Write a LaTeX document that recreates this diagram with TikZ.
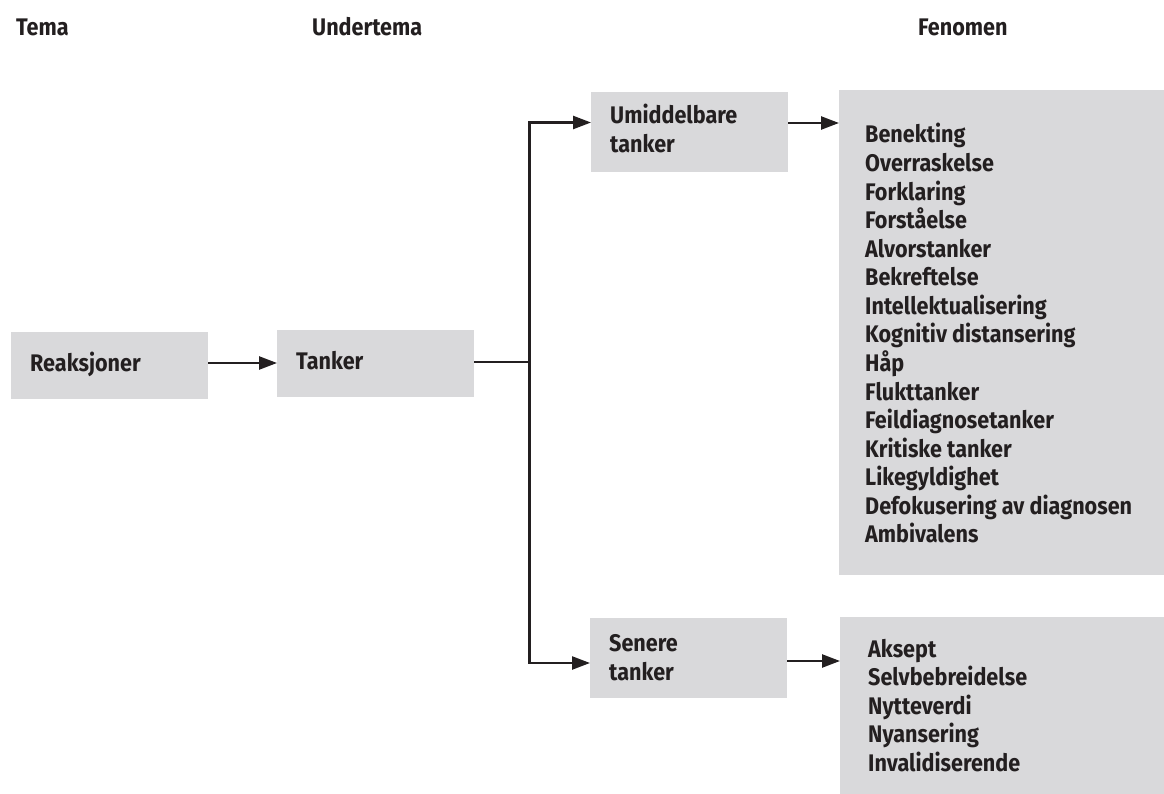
\documentclass[tikz,border=0pt]{standalone}
\usepackage{fontspec}
\usetikzlibrary{arrows.meta}
\newfontfamily\lblfont[FakeStretch=0.90]{Fira Sans}
\definecolor{ink}{HTML}{231F20}
\definecolor{boxgray}{HTML}{D9D9DB}
\tikzset{
  box/.style={fill=boxgray, draw=none, inner sep=0pt, anchor=north west},
  lbl/.style={font=\lblfont\bfseries\fontsize{24}{28}\selectfont, text=ink, inner sep=0pt, anchor=base west},
  ln/.style={draw=ink, line width=2.4pt, line join=miter},
  arr/.style={ln, -{Triangle[length=18pt,width=13pt]}},
}
\begin{document}
\begin{tikzpicture}[x=1pt,y=-1pt]
\useasboundingbox[fill=white] (0,0) rectangle (1164,794);

% column headings
\node[lbl] (hTema) at (16,36) {Tema};
\node[lbl] (hUnder) at (312,36) {Undertema};
\node[lbl] (hFen) at (918,36) {Fenomen};

% theme and subtheme boxes
\node[box, minimum width=197, minimum height=67] (reak) at (11,332) {};
\node[lbl] (reakT) at (30,371) {Reaksjoner};
\node[box, minimum width=197, minimum height=67] (tank) at (277,330) {};
\node[lbl] (tankT) at (296,369) {Tanker};

\node[box, minimum width=197, minimum height=80] (umid) at (591,92) {};
\node[lbl] (umidT1) at (610,124) {Umiddelbare};
\node[lbl] (umidT2) at (610,153) {tanker};

\node[box, minimum width=197, minimum height=80] (sen) at (590,618) {};
\node[lbl] (senT1) at (609,651) {Senere};
\node[lbl] (senT2) at (609,680) {tanker};

% phenomenon boxes
\node[box, minimum width=325, minimum height=485] (fen1) at (839,90) {};
\foreach \t [count=\i from 0] in {Benekting,Overraskelse,Forklaring,Forståelse,Alvorstanker,Bekreftelse,Intellektualisering,Kognitiv distansering,Håp,Flukttanker,Feildiagnosetanker,Kritiske tanker,Likegyldighet,Defokusering av diagnosen,Ambivalens}
  \node[lbl] (fenA\i) at (865,143+28.57*\i) {\t};

\node[box, minimum width=324, minimum height=177] (fen2) at (840,617) {};
\foreach \t [count=\i from 0] in {Aksept,Selvbebreidelse,Nytteverdi,Nyansering,Invalidiserende}
  \node[lbl] (fenB\i) at (868,657+28.5*\i) {\t};

% connectors
\coordinate (spineTop) at (529.5,122.5);
\coordinate (spineBot) at (529.5,663);
\coordinate (mid) at (529.5,362);
\coordinate (rowA) at (0,363);
\coordinate (rowU) at (0,123);
\coordinate (rowS) at (0,661);

\draw[arr] (reak.east |- rowA) -- (tank.west |- rowA);
\draw[ln] (tank.east |- mid) -- (mid);
\draw[arr] (spineBot) -- (spineTop) -- (umid.west |- spineTop);
\draw[arr] (spineTop) -- (spineBot) -- (sen.west |- spineBot);
\draw[arr] (umid.east |- rowU) -- (fen1.west |- rowU);
\draw[arr] (sen.east |- rowS) -- (fen2.west |- rowS);
\end{tikzpicture}
\end{document}
